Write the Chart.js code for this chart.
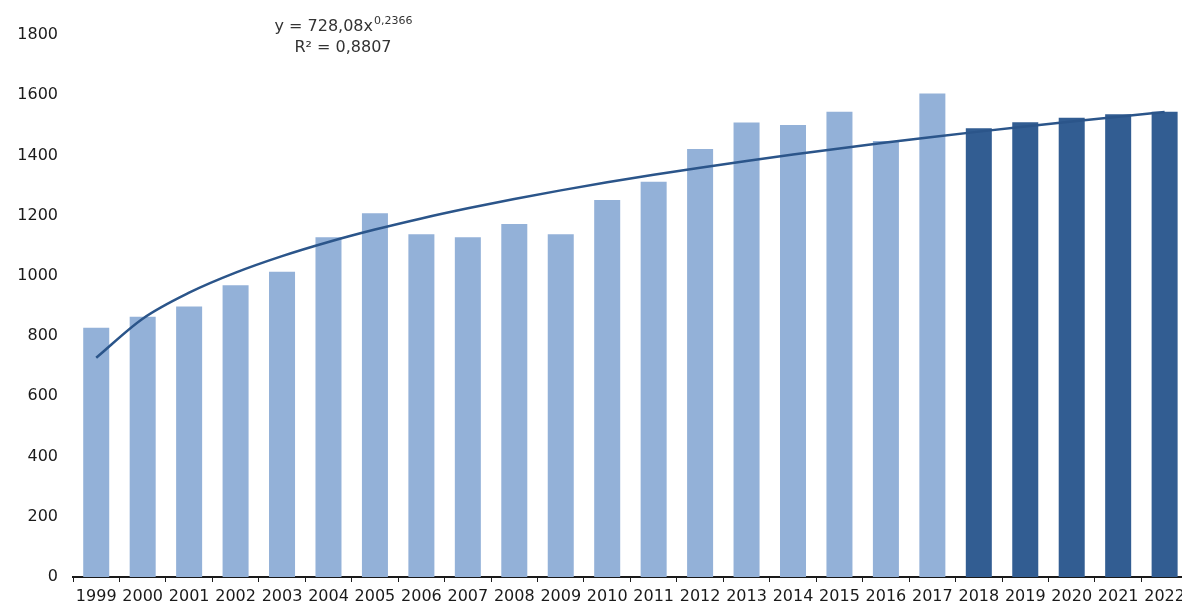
<!DOCTYPE html>
<html>
<head>
<meta charset="utf-8">
<style>
  html, body { margin: 0; padding: 0; background: #ffffff; overflow: hidden; }
  #chart { display: block; }
</style>
<script src="https://cdn.jsdelivr.net/npm/chart.js@4/dist/chart.umd.min.js"></script>
</head>
<body>
<canvas id="chart" width="1190" height="610"></canvas>
<script>
// Annual values, 1999–2017 observed, 2018–2022 projected
const years = ['1999','2000','2001','2002','2003','2004','2005','2006','2007','2008','2009','2010',
               '2011','2012','2013','2014','2015','2016','2017','2018','2019','2020','2021','2022'];
const values = [828, 864, 898, 969, 1014, 1128, 1208, 1138, 1128, 1172, 1138, 1252,
                1313, 1421, 1509, 1501, 1545, 1448, 1606, 1490, 1510, 1525, 1537, 1545];
const firstProjectedYear = '2018';
const yTicks = [0, 200, 400, 600, 800, 1000, 1200, 1400, 1600, 1800];

// Power trend y = a·x^b (x = 1 for the first year), as printed on the chart
const trendA = 728.08;
const trendB = 0.2366;
const trendR2 = '0,8807';
const trendValues = years.map((_, i) => trendA * Math.pow(i + 1, trendB));

const lightBlue = '#93b1d8';
const darkBlue = '#325d92';
const barColors = years.map(y => (y >= firstProjectedYear ? darkBlue : lightBlue));

const fontFamily = '"DejaVu Sans", "Liberation Sans", sans-serif';

// Trend equation and R² written above the plot
const equationPlugin = {
  id: 'equation',
  afterDraw(chart) {
    const ctx = chart.ctx;
    ctx.save();
    ctx.fillStyle = '#333333';
    ctx.textBaseline = 'alphabetic';
    const cx = 343;
    const main = 'y = ' + trendA.toFixed(2).replace('.', ',') + 'x';
    const sup = trendB.toString().replace('.', ',');
    ctx.font = '16px ' + fontFamily;
    const wMain = ctx.measureText(main).width;
    ctx.font = '11px ' + fontFamily;
    const wSup = ctx.measureText(sup).width;
    let x = cx - (wMain + wSup) / 2;
    ctx.font = '16px ' + fontFamily;
    ctx.textAlign = 'left';
    ctx.fillText(main, x, 31);
    ctx.font = '11px ' + fontFamily;
    ctx.fillText(sup, x + wMain + 1, 24);

    const r2 = 'R² = ' + trendR2;
    ctx.font = '16px ' + fontFamily;
    ctx.textAlign = 'center';
    ctx.fillText(r2, cx, 52);
    ctx.restore();
  }
};

new Chart(document.getElementById('chart'), {
  data: {
    labels: years,
    datasets: [
      {
        type: 'line',
        data: trendValues,
        borderColor: '#2b558a',
        borderWidth: 2.5,
        pointRadius: 0,
        cubicInterpolationMode: 'monotone',
        fill: false,
        order: 0
      },
      {
        type: 'bar',
        data: values,
        backgroundColor: barColors,
        borderWidth: 0,
        barPercentage: 0.56,
        categoryPercentage: 1.0,
        order: 1
      }
    ]
  },
  options: {
    responsive: false,
    animation: false,
    layout: { padding: { top: 35, right: 1, left: 0, bottom: 0 } },
    plugins: {
      legend: { display: false },
      tooltip: { enabled: false }
    },
    scales: {
      x: {
        offset: true,
        grid: {
          display: true,
          drawOnChartArea: false,
          drawTicks: true,
          tickLength: 5,
          offset: true,
          color: '#1a1a1a',
          lineWidth: 1
        },
        border: { display: true, color: '#1a1a1a', width: 2 },
        ticks: {
          color: '#1a1a1a',
          font: { family: fontFamily, size: 16 },
          padding: 5,
          maxRotation: 0,
          minRotation: 0,
          autoSkip: false
        },
        afterFit(scale) { scale.height = 33; }
      },
      y: {
        min: 0,
        max: 1800,
        afterBuildTicks(scale) { scale.ticks = yTicks.map(v => ({ value: v })); },
        grid: { display: false, drawTicks: false },
        border: { display: false },
        ticks: {
          color: '#1a1a1a',
          font: { family: fontFamily, size: 16 },
          padding: 15,
          callback: v => String(v)
        },
        afterFit(scale) { scale.width = 73; }
      }
    }
  },
  plugins: [equationPlugin]
});
</script>
</body>
</html>
